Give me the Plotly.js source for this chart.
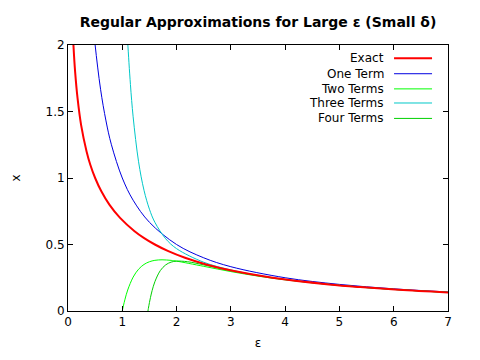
<!DOCTYPE html>
<html>
<head>
<meta charset="utf-8">
<script src="https://cdn.plot.ly/plotly-3.0.1.min.js"></script>
<style>html,body{margin:0;padding:0;background:#fff;}#chart{width:480px;height:360px;}</style>
</head>
<body>
<div id="chart"></div>
<script>
// Exact solution
const exactEps = [0.078,0.1,0.131,0.176,0.241,0.342,0.411,0.5,0.614,0.762,0.959,1.226,1.396,1.6,1.848,2.155,2.545,3.058,3.765,4.808,5.381,6.094,7.0];
const exactX   = [2.2,2.0,1.8,1.6,1.4,1.2,1.1,1.0,0.9,0.8,0.7,0.6,0.55,0.5,0.45,0.4,0.35,0.3,0.25,0.2,0.18,0.16,0.14];
// One term
const oneEps = [0.45,0.5,0.6,0.7,0.8,1.0,1.2,1.5,2.0,2.5,3.0,4.0,5.0,6.0,7.0];
const oneX   = [2.222,2.0,1.667,1.429,1.25,1.0,0.833,0.667,0.5,0.4,0.333,0.25,0.2,0.1667,0.1429];
// Two terms
const twoEps = [1.0,1.02,1.05,1.1,1.2,1.3,1.4,1.5,1.6,1.732,1.9,2.0,2.5,3.0,3.5,4.0,5.0,6.0,7.0];
const twoX   = [0,0.0381,0.0886,0.1578,0.2546,0.3141,0.3499,0.3704,0.3809,0.3849,0.3805,0.375,0.336,0.2963,0.2624,0.2344,0.192,0.162,0.1399];
// Three terms
const threeEps = [1.05,1.08,1.1,1.15,1.2,1.3,1.4,1.5,1.6,1.8,2.0,2.5,3.0,3.5,4.0,5.0,6.0,7.0];
const threeX   = [2.439,2.174,2.0206,1.7036,1.4602,1.1221,0.9077,0.7655,0.667,0.5429,0.4688,0.3667,0.3086,0.2681,0.2373,0.193,0.1624,0.1401];
// Four terms
const fourEps = [1.473,1.48,1.5,1.52,1.55,1.6,1.7,1.8,1.9,2.0,2.2,2.5,3.0,3.5,4.0,5.0,6.0,7.0];
const fourX   = [0,0.0182,0.0632,0.1028,0.1537,0.22,0.3036,0.3469,0.3675,0.375,0.3707,0.347,0.3031,0.2662,0.2366,0.1928,0.1624,0.1401];

const seriesNames  = ["Exact","One Term","Two Terms","Three Terms","Four Terms"];
const seriesColors = ["#ff0000","#0000e0","#00ff00","#00c8c8","#00d000"];
const seriesWidths = [2,1,1,1,1];
const xTicks = [0,1,2,3,4,5,6,7];
const yTicks = [0,0.5,1,1.5,2];
const yTickText = ["0","0.5","1","1.5","2"];

const xs = [exactEps,oneEps,twoEps,threeEps,fourEps];
const ys = [exactX,oneX,twoX,threeX,fourX];
const drawOrder = [1,2,3,4,0];
const traces = drawOrder.map(i => ({
  x: xs[i], y: ys[i], type: 'scatter', mode: 'lines', name: seriesNames[i],
  line: {color: seriesColors[i], width: seriesWidths[i], shape: 'spline', smoothing: 1},
  showlegend: false, hoverinfo: 'skip'
}));

const font = {family: 'DejaVu Sans, Liberation Sans, sans-serif', size: 12, color: '#000'};
const rowY = [0.950,0.892,0.835,0.782,0.724];
const annotations = seriesNames.map((n,i) => ({
  xref:'paper', yref:'paper', x:0.8368, y:rowY[i], xanchor:'right', yanchor:'middle',
  text:n, showarrow:false, font:font
}));
const shapes = seriesNames.map((n,i) => ({
  type:'line', xref:'paper', yref:'paper', x0:0.858, x1:0.958, y0:rowY[i], y1:rowY[i],
  line:{color:seriesColors[i], width:seriesWidths[i]}
}));

const axisCommon = {
  showline:true, linecolor:'#000', linewidth:1, mirror:'ticks', ticks:'inside', ticklen:5,
  tickcolor:'#000', showgrid:false, zeroline:false, tickfont:font
};

const layout = {
  width:480, height:360,
  margin:{l:68, r:32, t:45, b:49},
  paper_bgcolor:'#fff', plot_bgcolor:'#fff',
  font:font,
  title:{text:'<b>Regular Approximations for Large ε (Small δ)</b>', font:{family:'DejaVu Sans, sans-serif', size:14, color:'#000'},
         xref:'paper', x:0.5, xanchor:'center', yref:'container', y:1-22/360, yanchor:'middle'},
  xaxis: Object.assign({}, axisCommon, {range:[0,7], tickvals:xTicks, title:{text:'ε', font:font, standoff:10}}),
  yaxis: Object.assign({}, axisCommon, {range:[0,2], tickvals:yTicks, ticktext:yTickText, title:{text:'x', font:font, standoff:22}}),
  annotations: annotations,
  shapes: shapes
};

Plotly.newPlot('chart', traces, layout, {staticPlot:true, displayModeBar:false});
</script>
</body>
</html>
